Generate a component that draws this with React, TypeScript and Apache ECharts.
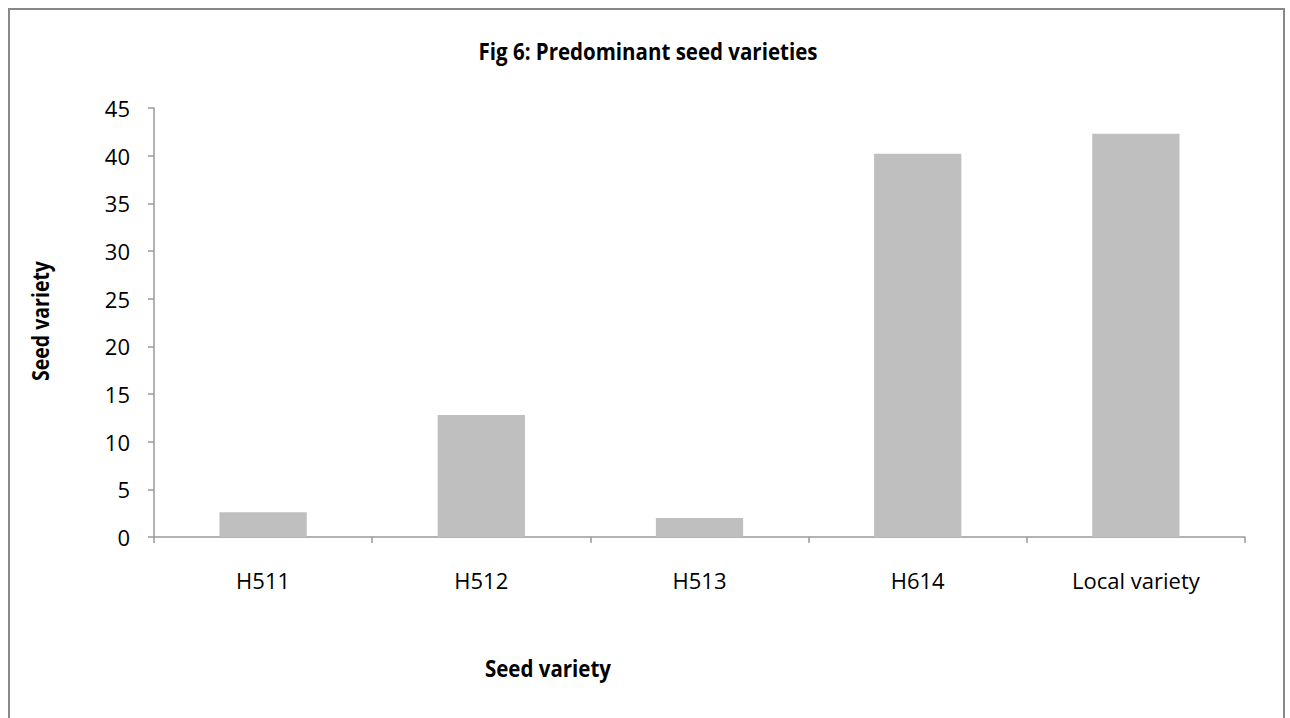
import React, { useEffect, useRef } from "react";
import * as echarts from "echarts";

const categories = ["H511", "H512", "H513", "H614", "Local variety"];
const values = [2.6, 12.8, 2.0, 40.2, 42.3];
const titleText = "Fig 6: Predominant seed varieties";
const xAxisTitle = "Seed variety";
const yAxisTitle = "Seed variety";

const FONT = "'Open Sans', sans-serif";

export default function App() {
  const ref = useRef<HTMLDivElement>(null);
  useEffect(() => {
    if (!ref.current) return;
    const chart = echarts.init(ref.current, null, { renderer: "svg" });
    chart.setOption({
      animation: false,
      backgroundColor: "#ffffff",
      textStyle: { fontFamily: FONT },
      graphic: [
        {
          type: "rect",
          shape: { x: 9, y: 9, width: 1275, height: 720 },
          style: { fill: "none", stroke: "#888888", lineWidth: 2 },
          silent: true,
        },
        {
          type: "text",
          x: 648,
          y: 50,
          scaleY: 1.15,
          style: {
            text: titleText,
            fontFamily: FONT,
            fontSize: 20.5,
            fontWeight: "bold",
            fill: "#000",
            align: "center",
            verticalAlign: "middle",
          },
        },
        {
          type: "text",
          x: 548,
          y: 667,
          scaleY: 1.15,
          style: {
            text: xAxisTitle,
            fontFamily: FONT,
            fontSize: 20.5,
            fontWeight: "bold",
            fill: "#000",
            align: "center",
            verticalAlign: "middle",
          },
        },
        {
          type: "text",
          x: 40,
          y: 321,
          rotation: Math.PI / 2,
          scaleY: 1.15,
          style: {
            text: yAxisTitle,
            fontFamily: FONT,
            fontSize: 19.5,
            fontWeight: "bold",
            fill: "#000",
            align: "center",
            verticalAlign: "middle",
          },
        },
      ],
      grid: { left: 154, right: 45, top: 108, bottom: 181, containLabel: false },
      xAxis: {
        type: "category",
        data: categories,
        axisLine: { lineStyle: { color: "#9a9a9a", width: 1.5 } },
        axisTick: { show: true, length: 6, lineStyle: { color: "#9a9a9a", width: 1.5 } },
        axisLabel: { color: "#000", fontSize: 22, fontFamily: FONT, margin: 32 },
      },
      yAxis: {
        type: "value",
        min: 0,
        max: 45,
        interval: 5,
        splitLine: { show: false },
        axisLine: { show: true, lineStyle: { color: "#9a9a9a", width: 1.5 } },
        axisTick: { show: true, length: 6, lineStyle: { color: "#9a9a9a", width: 1.5 } },
        axisLabel: { color: "#000", fontSize: 22, fontFamily: FONT, margin: 24 },
      },
      series: [
        {
          type: "bar",
          data: values,
          barWidth: "40%",
          itemStyle: { color: "#bfbfbf" },
        },
      ],
    });
    return () => chart.dispose();
  }, []);
  return (
    <div
      ref={ref}
      style={{ position: "fixed", left: 0, top: 0, width: 1290, height: 718 }}
    />
  );
}
